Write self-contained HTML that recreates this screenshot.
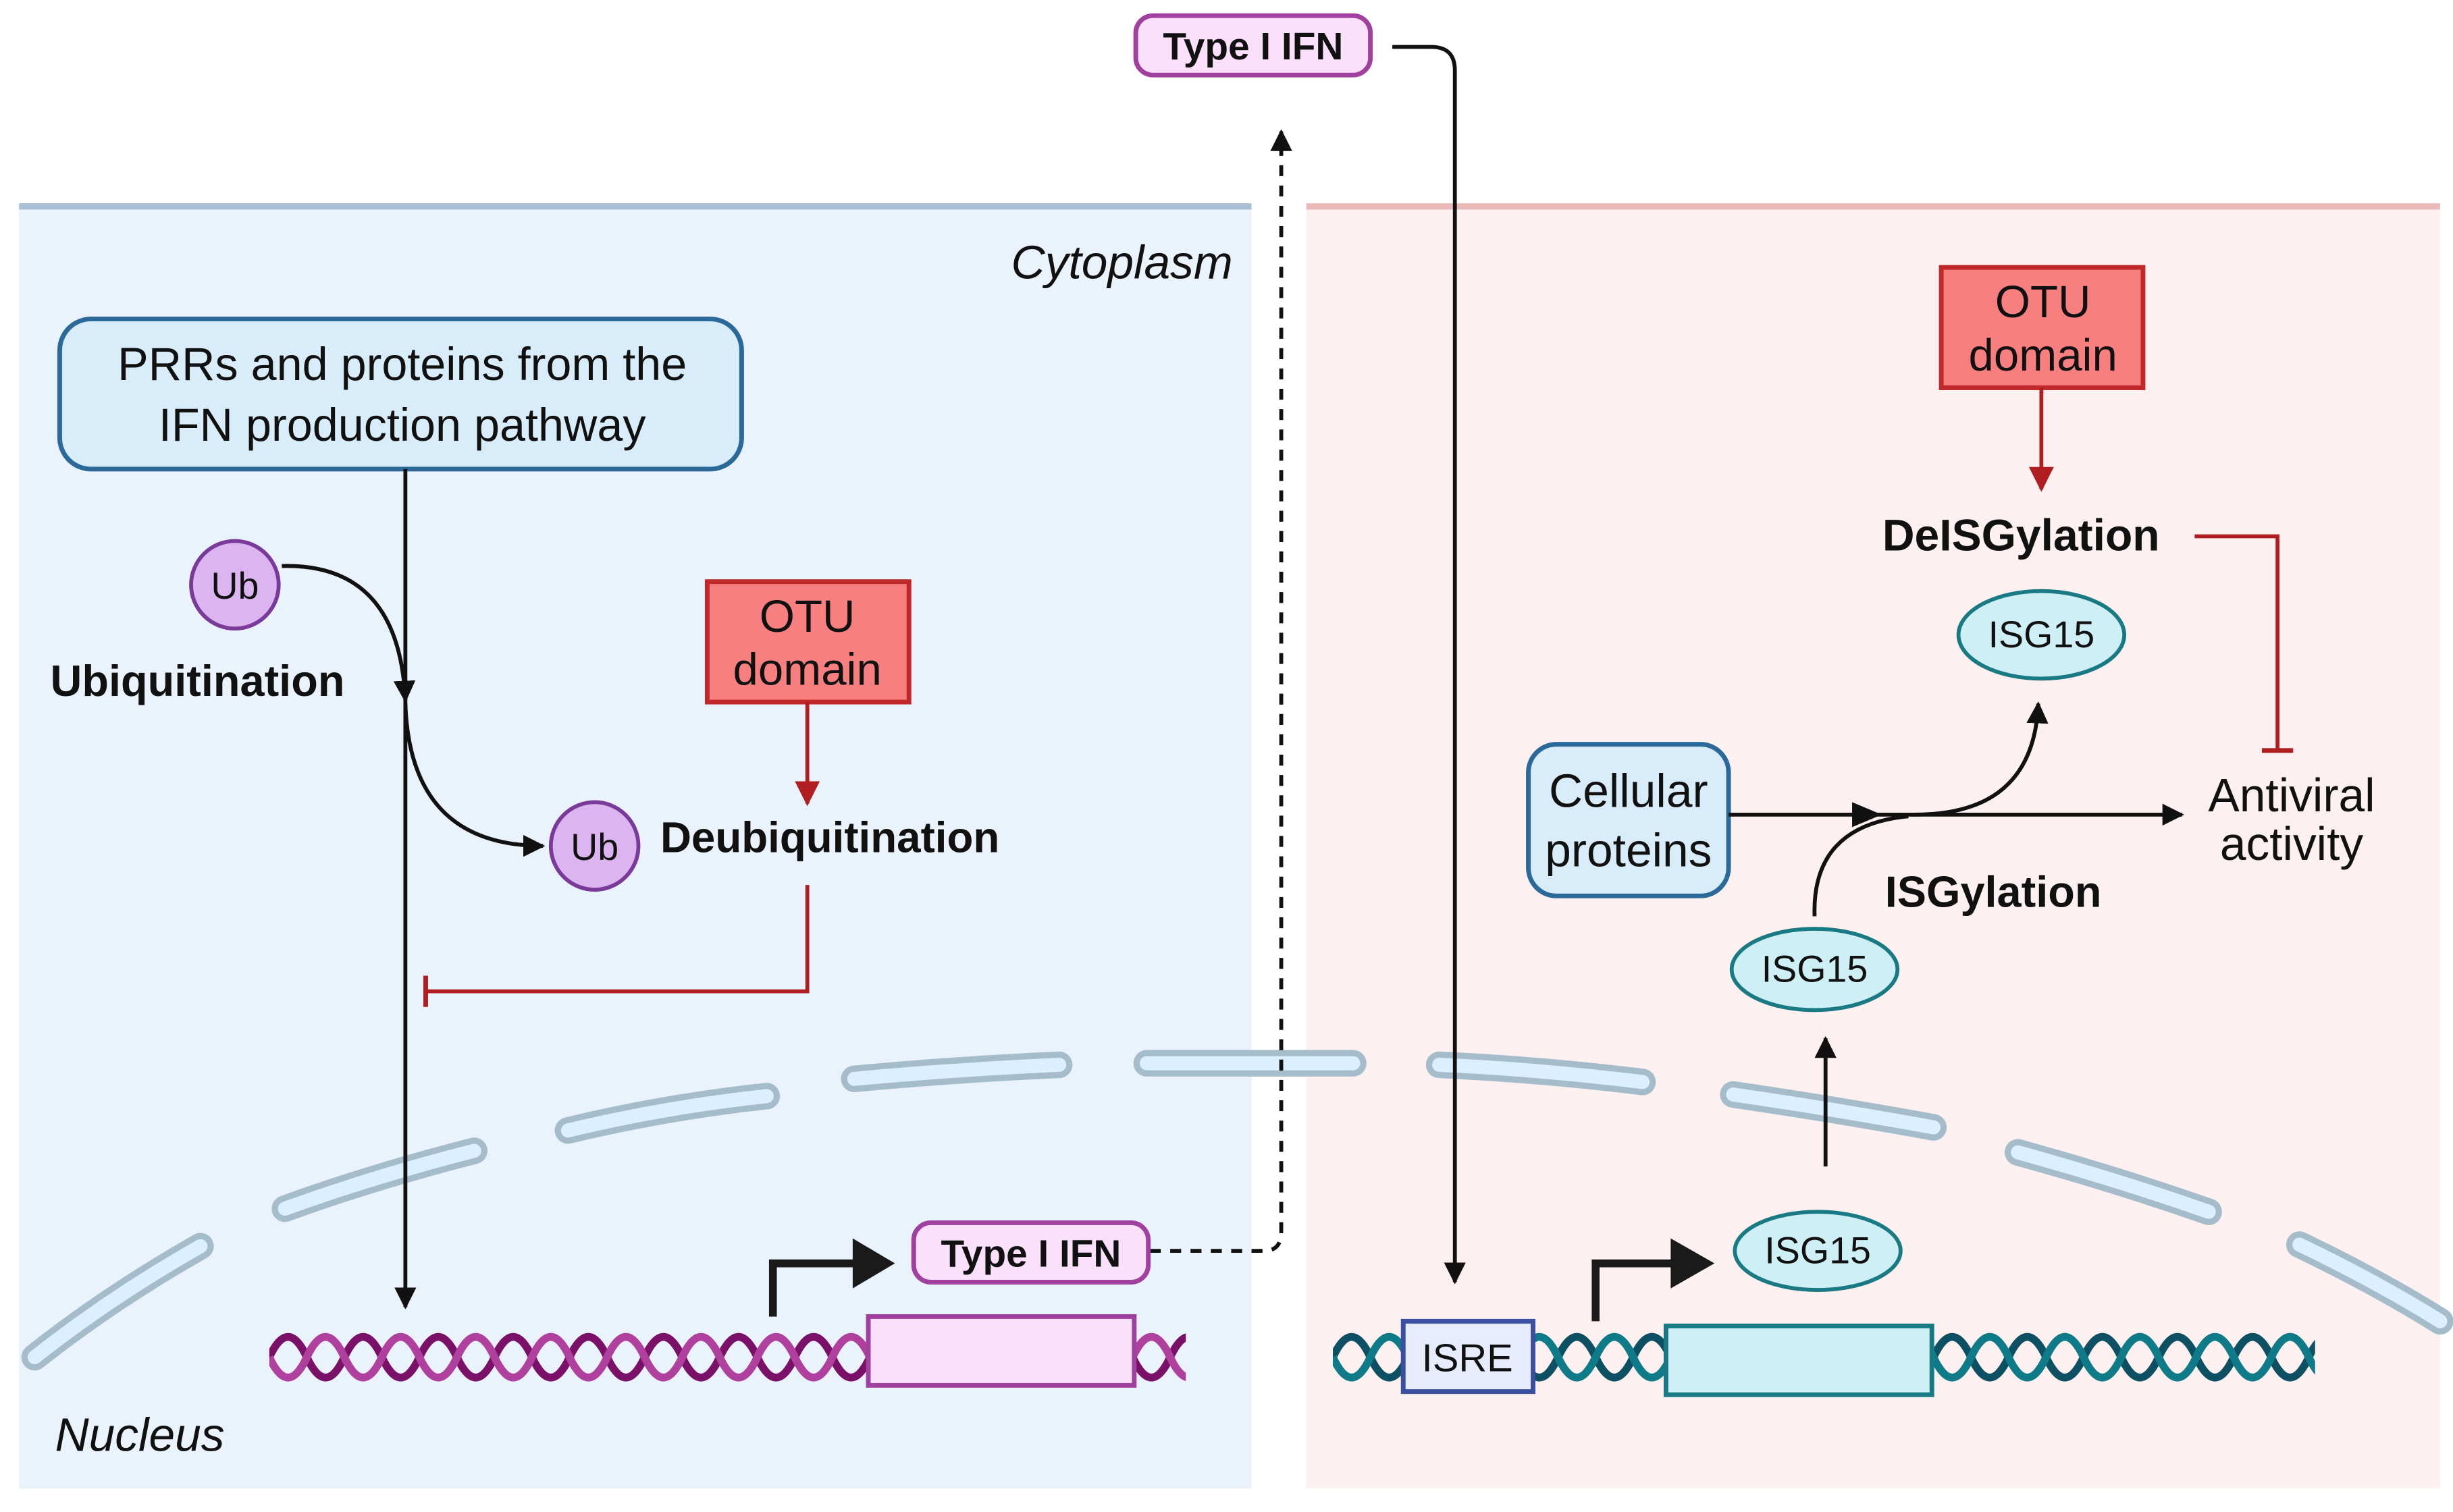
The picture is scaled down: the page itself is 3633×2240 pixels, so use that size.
<!DOCTYPE html>
<html><head><meta charset="utf-8"><style>
html,body{margin:0;padding:0;background:#fff;width:3633px;height:2240px;overflow:hidden}
svg{display:block}
text{font-family:"Liberation Sans",sans-serif;fill:#111}
.b{font-weight:bold}
</style></head><body>
<svg width="3633" height="2240" viewBox="0 0 1568 967" xmlns="http://www.w3.org/2000/svg">
<defs>
<marker id="ak" viewBox="0 0 10 10" refX="9" refY="5" markerWidth="14" markerHeight="14" markerUnits="userSpaceOnUse" orient="auto"><path d="M0,0L10,5L0,10z" fill="#111"/></marker>
<marker id="ar" viewBox="0 0 10 10" refX="9" refY="5" markerWidth="16" markerHeight="16" markerUnits="userSpaceOnUse" orient="auto"><path d="M0,0L10,5L0,10z" fill="#b01e22"/></marker>
<clipPath id="cl"><rect x="172" y="840" width="586" height="50"/></clipPath>
<clipPath id="cr"><rect x="852" y="840" width="628" height="50"/></clipPath>
</defs>
<rect x="12" y="132" width="788" height="820" fill="#eaf2fb"/>
<line x1="12" y1="132" x2="800" y2="132" stroke="#a9bfd3" stroke-width="4"/>
<rect x="835" y="132" width="725" height="820" fill="#fdf0f0"/>
<line x1="835" y1="132" x2="1560" y2="132" stroke="#eab9b9" stroke-width="4"/>
<text x="788" y="178" font-size="30" font-style="italic" text-anchor="end">Cytoplasm</text>
<text x="35" y="928" font-size="30" font-style="italic">Nucleus</text>

<g stroke-linecap="round" fill="none">
<g stroke="#a5bccb" stroke-width="17">
<path d="M22,868 Q70,830 128,797"/><path d="M182,773 Q240,752 303,736"/><path d="M363,723 Q425,708 490,701"/><path d="M546,690 Q610,684 677,681"/><path d="M733,680 L865,680"/><path d="M920,681 Q985,684 1050,692"/><path d="M1108,700 Q1170,709 1236,721"/><path d="M1290,737 Q1355,755 1412,775"/><path d="M1470,796 Q1520,820 1560,845"/>
</g>
<g stroke="#dcefff" stroke-width="9">
<path d="M22,868 Q70,830 128,797"/><path d="M182,773 Q240,752 303,736"/><path d="M363,723 Q425,708 490,701"/><path d="M546,690 Q610,684 677,681"/><path d="M733,680 L865,680"/><path d="M920,681 Q985,684 1050,692"/><path d="M1108,700 Q1170,709 1236,721"/><path d="M1290,737 Q1355,755 1412,775"/><path d="M1470,796 Q1520,820 1560,845"/>
</g></g>

<rect x="726" y="10" width="150" height="38" rx="11" fill="#fbe0fb" stroke="#a0409f" stroke-width="3"/>
<text x="801" y="38" font-size="24.5" class="b" text-anchor="middle">Type I IFN</text>
<path d="M890,30 L915,30 Q930,30 930,45 L930,820" fill="none" stroke="#111" stroke-width="2.5" marker-end="url(#ak)"/>
<path d="M735,800 L808,800 Q819,800 819,788 L819,84" fill="none" stroke="#111" stroke-width="2.5" stroke-dasharray="7,6" marker-end="url(#ak)"/>

<rect x="38" y="204" width="436" height="96" rx="20" fill="#d9ecf9" stroke="#2b6a98" stroke-width="3"/>
<text x="257" y="243" font-size="29.5" text-anchor="middle">PRRs and proteins from the</text>
<text x="257" y="282" font-size="29.5" text-anchor="middle">IFN production pathway</text>
<line x1="259" y1="300" x2="259" y2="836" stroke="#111" stroke-width="2.5" marker-end="url(#ak)"/>

<circle cx="150" cy="374" r="28" fill="#dcb4ef" stroke="#7a3a9a" stroke-width="2.5"/>
<text x="150" y="383" font-size="24" text-anchor="middle">Ub</text>
<path d="M180,362 Q255,360 259,448" fill="none" stroke="#111" stroke-width="2.5" marker-end="url(#ak)"/>
<text x="32" y="445" font-size="28" class="b">Ubiquitination</text>
<path d="M259,450 Q262,541 347,541" fill="none" stroke="#111" stroke-width="2.5" marker-end="url(#ak)"/>
<circle cx="380" cy="541" r="28" fill="#dcb4ef" stroke="#7a3a9a" stroke-width="2.5"/>
<text x="380" y="550" font-size="24" text-anchor="middle">Ub</text>
<text x="422" y="545" font-size="27.5" class="b">Deubiquitination</text>

<rect x="452" y="372" width="129" height="77" fill="#f77f7f" stroke="#c0282a" stroke-width="3"/>
<text x="516" y="404" font-size="29" text-anchor="middle">OTU</text>
<text x="516" y="438" font-size="29" text-anchor="middle">domain</text>
<line x1="516" y1="449" x2="516" y2="514" stroke="#b01e22" stroke-width="2.5" marker-end="url(#ar)"/>
<path d="M516,566 L516,634 L272,634" fill="none" stroke="#b01e22" stroke-width="2.5"/>
<line x1="272" y1="624" x2="272" y2="644" stroke="#b01e22" stroke-width="3"/>

<g clip-path="url(#cl)" fill="none" stroke-width="5">
<path stroke="#7a1068" d="M172,868 q12,-26 24,0 t24,0 t24,0 t24,0 t24,0 t24,0 t24,0 t24,0 t24,0 t24,0 t24,0 t24,0 t24,0 t24,0 t24,0 t24,0 t24,0 t24,0 t24,0 t24,0 t24,0 t24,0 t24,0 t24,0 t24,0"/>
<path stroke="#b0409e" d="M172,868 q12,26 24,0 t24,0 t24,0 t24,0 t24,0 t24,0 t24,0 t24,0 t24,0 t24,0 t24,0 t24,0 t24,0 t24,0 t24,0 t24,0 t24,0 t24,0 t24,0 t24,0 t24,0 t24,0 t24,0 t24,0 t24,0"/>
</g>
<rect x="555" y="842" width="170" height="44" fill="#fbe0fb" stroke="#a0409f" stroke-width="3"/>
<path d="M494,842 L494,808 L548,808" fill="none" stroke="#1a1a1a" stroke-width="5"/>
<path d="M545,792 L572,808 L545,824z" fill="#1a1a1a"/>
<rect x="584" y="782" width="150" height="38" rx="11" fill="#fbe0fb" stroke="#a0409f" stroke-width="3"/>
<text x="659" y="810" font-size="24.5" class="b" text-anchor="middle">Type I IFN</text>

<g clip-path="url(#cr)" fill="none" stroke-width="5">
<path stroke="#0d4f63" d="M852,868 q12,-26 24,0 t24,0 t24,0 t24,0 t24,0 t24,0 t24,0 t24,0 t24,0 t24,0 t24,0 t24,0 t24,0 t24,0 t24,0 t24,0 t24,0 t24,0 t24,0 t24,0 t24,0 t24,0 t24,0 t24,0 t24,0 t24,0 t24,0"/>
<path stroke="#0f7a88" d="M852,868 q12,26 24,0 t24,0 t24,0 t24,0 t24,0 t24,0 t24,0 t24,0 t24,0 t24,0 t24,0 t24,0 t24,0 t24,0 t24,0 t24,0 t24,0 t24,0 t24,0 t24,0 t24,0 t24,0 t24,0 t24,0 t24,0 t24,0 t24,0"/>
</g>
<rect x="897" y="845" width="83" height="45" fill="#e6ecfb" stroke="#3b4fa0" stroke-width="3"/>
<text x="938" y="877" font-size="25" text-anchor="middle">ISRE</text>
<rect x="1065" y="848" width="170" height="44" fill="#cdeff5" stroke="#1a7a83" stroke-width="3"/>
<path d="M1020,845 L1020,808 L1072,808" fill="none" stroke="#1a1a1a" stroke-width="5"/>
<path d="M1068,792 L1096,808 L1068,824z" fill="#1a1a1a"/>
<ellipse cx="1162" cy="800" rx="53" ry="25" fill="#cdeff5" stroke="#1a7a83" stroke-width="2.5"/>
<text x="1162" y="808" font-size="24" text-anchor="middle">ISG15</text>
<line x1="1167" y1="746" x2="1167" y2="664" stroke="#111" stroke-width="2.5" marker-end="url(#ak)"/>
<ellipse cx="1160" cy="620" rx="53" ry="26" fill="#cdeff5" stroke="#1a7a83" stroke-width="2.5"/>
<text x="1160" y="628" font-size="24" text-anchor="middle">ISG15</text>

<rect x="977" y="476" width="128" height="97" rx="18" fill="#d9ecf9" stroke="#2b6a98" stroke-width="3"/>
<text x="1041" y="516" font-size="30" text-anchor="middle">Cellular</text>
<text x="1041" y="554" font-size="30" text-anchor="middle">proteins</text>
<line x1="1105" y1="521" x2="1395" y2="521" stroke="#111" stroke-width="2.5" marker-end="url(#ak)"/>
<path d="M1160,586 Q1158,528 1220,522" fill="none" stroke="#111" stroke-width="2.5"/>
<path d="M1184,513 L1203,521 L1184,529z" fill="#111"/>
<path d="M1222,521 Q1300,522 1303,450" fill="none" stroke="#111" stroke-width="2.5" marker-end="url(#ak)"/>
<text x="1205" y="580" font-size="28" class="b">ISGylation</text>
<text x="1465" y="519" font-size="30" text-anchor="middle">Antiviral</text>
<text x="1465" y="550" font-size="30" text-anchor="middle">activity</text>
<ellipse cx="1305" cy="406" rx="53" ry="28" fill="#cdeff5" stroke="#1a7a83" stroke-width="2.5"/>
<text x="1305" y="414" font-size="24" text-anchor="middle">ISG15</text>
<text x="1292" y="352" font-size="28.5" class="b" text-anchor="middle">DeISGylation</text>
<rect x="1241" y="171" width="129" height="77" fill="#f77f7f" stroke="#c0282a" stroke-width="3"/>
<text x="1306" y="203" font-size="29" text-anchor="middle">OTU</text>
<text x="1306" y="237" font-size="29" text-anchor="middle">domain</text>
<line x1="1305" y1="248" x2="1305" y2="313" stroke="#b01e22" stroke-width="2.5" marker-end="url(#ar)"/>
<path d="M1403,343 L1456,343 L1456,480" fill="none" stroke="#b01e22" stroke-width="2.5"/>
<line x1="1446" y1="480" x2="1466" y2="480" stroke="#b01e22" stroke-width="3"/>
</svg>
</body></html>
